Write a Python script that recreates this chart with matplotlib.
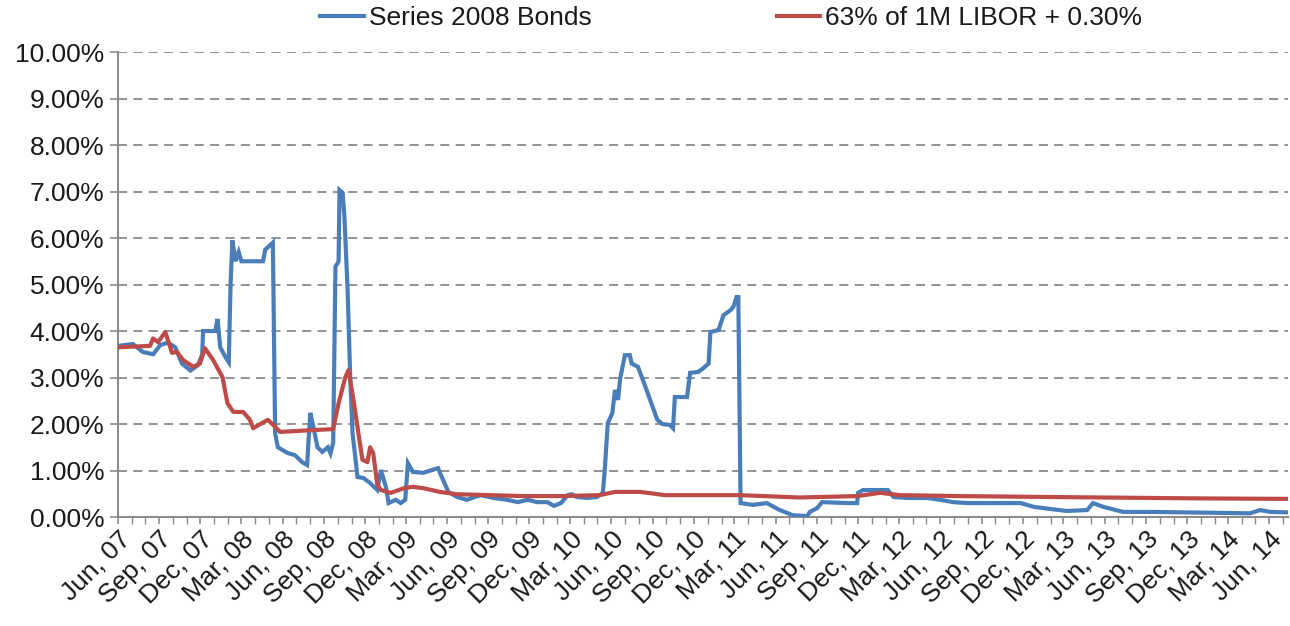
import matplotlib
matplotlib.use("Agg")
import matplotlib.pyplot as plt
import matplotlib.dates as mdates
from matplotlib.ticker import FuncFormatter, MultipleLocator
import pandas as pd

# Series 2008 Bonds rate (%)
bond_dates = [
    "2007-06-01", "2007-07-04", "2007-07-26", "2007-08-18", "2007-09-03", "2007-09-20",
    "2007-10-06", "2007-10-21", "2007-11-09", "2007-11-26", "2007-12-05", "2007-12-07",
    "2008-01-03", "2008-01-08", "2008-01-14", "2008-01-25", "2008-02-02", "2008-02-06",
    "2008-02-10", "2008-02-17", "2008-02-24", "2008-03-01", "2008-04-18", "2008-04-23",
    "2008-05-10", "2008-05-15", "2008-05-21", "2008-06-11", "2008-06-28", "2008-07-14",
    "2008-07-25", "2008-08-01", "2008-08-08", "2008-08-17", "2008-08-28", "2008-09-09",
    "2008-09-15", "2008-09-21", "2008-09-26", "2008-10-03", "2008-10-05", "2008-10-12",
    "2008-10-16", "2008-10-23", "2008-10-29", "2008-11-03", "2008-11-14", "2008-11-27",
    "2008-12-12", "2008-12-28", "2009-01-05", "2009-01-16", "2009-01-22", "2009-02-07",
    "2009-02-18", "2009-02-28", "2009-03-06", "2009-03-17", "2009-04-09", "2009-04-28",
    "2009-05-12", "2009-05-23", "2009-06-04", "2009-06-23", "2009-07-15", "2009-08-14",
    "2009-09-12", "2009-10-13", "2009-11-05", "2009-11-27", "2009-12-18", "2010-01-10",
    "2010-01-24", "2010-02-09", "2010-02-24", "2010-03-05", "2010-03-16", "2010-04-08",
    "2010-04-30", "2010-05-13", "2010-05-17", "2010-05-24", "2010-06-03", "2010-06-09",
    "2010-06-16", "2010-06-20", "2010-07-01", "2010-07-12", "2010-07-16", "2010-07-30",
    "2010-08-10", "2010-08-26", "2010-09-11", "2010-09-22", "2010-10-09", "2010-10-16",
    "2010-10-20", "2010-11-16", "2010-11-23", "2010-12-11", "2010-12-22", "2011-01-03",
    "2011-01-07", "2011-01-25", "2011-02-05", "2011-02-21", "2011-02-27", "2011-03-06",
    "2011-03-10", "2011-03-15", "2011-04-11", "2011-05-12", "2011-06-10", "2011-07-09",
    "2011-08-10", "2011-08-16", "2011-09-01", "2011-09-12", "2011-11-07", "2011-11-29",
    "2011-12-01", "2011-12-12", "2012-02-05", "2012-02-18", "2012-03-19", "2012-05-02",
    "2012-06-01", "2012-06-29", "2012-07-30", "2012-09-05", "2012-11-26", "2012-12-25",
    "2013-02-02", "2013-03-09", "2013-04-23", "2013-05-06", "2013-05-28", "2013-07-12",
    "2013-09-11", "2013-11-23", "2014-02-07", "2014-04-20", "2014-05-12", "2014-06-04",
    "2014-07-13",
]
bond_rates = [
    3.68, 3.72, 3.55, 3.50, 3.70, 3.75,
    3.65, 3.30, 3.15, 3.27, 3.50, 4.00,
    4.00, 4.26, 3.65, 3.45, 3.33, 5.00,
    5.95, 5.50, 5.70, 5.50, 5.50, 5.75,
    5.90, 1.80, 1.50, 1.38, 1.33, 1.18,
    1.12, 2.24, 1.94, 1.50, 1.40, 1.50,
    1.37, 1.60, 5.38, 5.50, 7.03, 6.97,
    6.45, 4.88, 2.95, 1.80, 0.86, 0.84,
    0.73, 0.58, 1.01, 0.65, 0.30, 0.37,
    0.30, 0.37, 1.16, 0.97, 0.95, 1.01,
    1.05, 0.80, 0.54, 0.43, 0.37, 0.47,
    0.41, 0.37, 0.32, 0.37, 0.32, 0.32,
    0.24, 0.30, 0.47, 0.49, 0.43, 0.41,
    0.43, 0.52, 0.97, 2.02, 2.23, 2.73,
    2.52, 2.95, 3.48, 3.48, 3.30, 3.23,
    2.95, 2.52, 2.09, 2.00, 1.98, 1.91,
    2.58, 2.58, 3.10, 3.12, 3.20, 3.30,
    3.98, 4.02, 4.34, 4.45, 4.52, 4.73,
    4.73, 0.30, 0.26, 0.30, 0.15, 0.04,
    0.02, 0.11, 0.19, 0.32, 0.30, 0.30,
    0.52, 0.58, 0.58, 0.43, 0.41, 0.41,
    0.37, 0.32, 0.30, 0.30, 0.30, 0.22,
    0.17, 0.13, 0.15, 0.30, 0.22, 0.11,
    0.11, 0.10, 0.09, 0.08, 0.15, 0.11,
    0.10,
]

# 63% of 1M LIBOR + 0.30% (%)
libor_dates = [
    "2007-06-01", "2007-08-11", "2007-08-18", "2007-08-29", "2007-09-14", "2007-09-29",
    "2007-10-10", "2007-10-23", "2007-11-15", "2007-11-30", "2007-12-11", "2007-12-29",
    "2008-01-19", "2008-01-30", "2008-02-12", "2008-03-05", "2008-03-20", "2008-03-27",
    "2008-04-16", "2008-04-29", "2008-05-15", "2008-05-26", "2008-08-08", "2008-09-21",
    "2008-10-03", "2008-10-18", "2008-10-25", "2008-11-05", "2008-11-16", "2008-11-25",
    "2008-12-06", "2008-12-12", "2008-12-19", "2008-12-28", "2009-01-05", "2009-01-27",
    "2009-02-25", "2009-03-17", "2009-04-09", "2009-05-16", "2009-06-23", "2009-11-18",
    "2010-02-09", "2010-05-06", "2010-06-09", "2010-08-04", "2010-09-29", "2011-03-13",
    "2011-07-24", "2011-11-29", "2012-01-19", "2012-03-03", "2012-07-15", "2013-02-02",
    "2013-12-30", "2014-07-13",
]
libor_rates = [
    3.65, 3.68, 3.84, 3.76, 3.98, 3.53,
    3.55, 3.38, 3.23, 3.30, 3.63, 3.38,
    3.01, 2.45, 2.26, 2.26, 2.09, 1.91,
    2.02, 2.09, 1.94, 1.83, 1.87, 1.89,
    2.45, 3.01, 3.16, 2.52, 1.80, 1.23,
    1.18, 1.50, 1.37, 0.69, 0.58, 0.52,
    0.62, 0.65, 0.62, 0.54, 0.49, 0.45,
    0.45, 0.47, 0.54, 0.54, 0.47, 0.47,
    0.42, 0.45, 0.52, 0.47, 0.45, 0.43,
    0.40, 0.39,
]

series_labels = ["Series 2008 Bonds", "63% of 1M LIBOR + 0.30%"]
y_ticks = [0, 1, 2, 3, 4, 5, 6, 7, 8, 9, 10]
x_start, x_end = "2007-06-01", "2014-07-13"

blue = "#4A7EBB"
red = "#BE4B48"
axis_gray = "#8C8C8C"
font = ["Liberation Sans", "DejaVu Sans"]
plt.rcParams["font.family"] = font

fig = plt.figure(figsize=(12.9, 6.26), dpi=100)
ax = fig.add_axes([0.0915, 0.1741, 0.9069, 0.7428])

ax.plot(pd.to_datetime(bond_dates), bond_rates, color=blue, lw=3.0,
        solid_joinstyle="miter", label=series_labels[0], zorder=3)
ax.plot(pd.to_datetime(libor_dates), libor_rates, color=red, lw=3.0,
        solid_joinstyle="round", label=series_labels[1], zorder=4)

ax.set_xlim(pd.Timestamp(x_start), pd.Timestamp(x_end))
ax.set_ylim(y_ticks[0], y_ticks[-1])
ax.set_yticks(y_ticks)
ax.yaxis.set_major_formatter(FuncFormatter(lambda v, p: f"{v:.2f}%"))

ax.xaxis.set_major_locator(mdates.MonthLocator(bymonth=[3, 6, 9, 12], bymonthday=1))
ax.xaxis.set_minor_locator(mdates.MonthLocator(bymonthday=1))
ax.xaxis.set_major_formatter(mdates.DateFormatter("%b, %y"))

ax.grid(axis="y", which="major", color="#8A8A8A", linestyle=(0, (5, 3.5)), lw=1.3)
ax.set_axisbelow(True)

for side in ("top", "right"):
    ax.spines[side].set_visible(False)
for side in ("left", "bottom"):
    ax.spines[side].set_color(axis_gray)
    ax.spines[side].set_linewidth(1.5)

ax.tick_params(axis="y", which="major", length=6, width=1.2, color=axis_gray,
               labelsize=19, pad=4, labelcolor="#1a1a1a")
ax.tick_params(axis="x", which="major", length=5, width=1.2, color=axis_gray,
               labelsize=19, pad=2, labelcolor="#1a1a1a")
ax.tick_params(axis="x", which="minor", length=5, width=1.0, color=axis_gray)
for lbl in ax.get_xticklabels():
    lbl.set_rotation(45)
    lbl.set_ha("right")
    lbl.set_rotation_mode("anchor")

fig.legend(loc="center", bbox_to_anchor=(0.567, 0.971), ncol=2, frameon=False,
           fontsize=19, handlelength=1.65, handletextpad=0.2, columnspacing=7.0,
           labelcolor="#1a1a1a")

fig.savefig("out.png", dpi=100)
